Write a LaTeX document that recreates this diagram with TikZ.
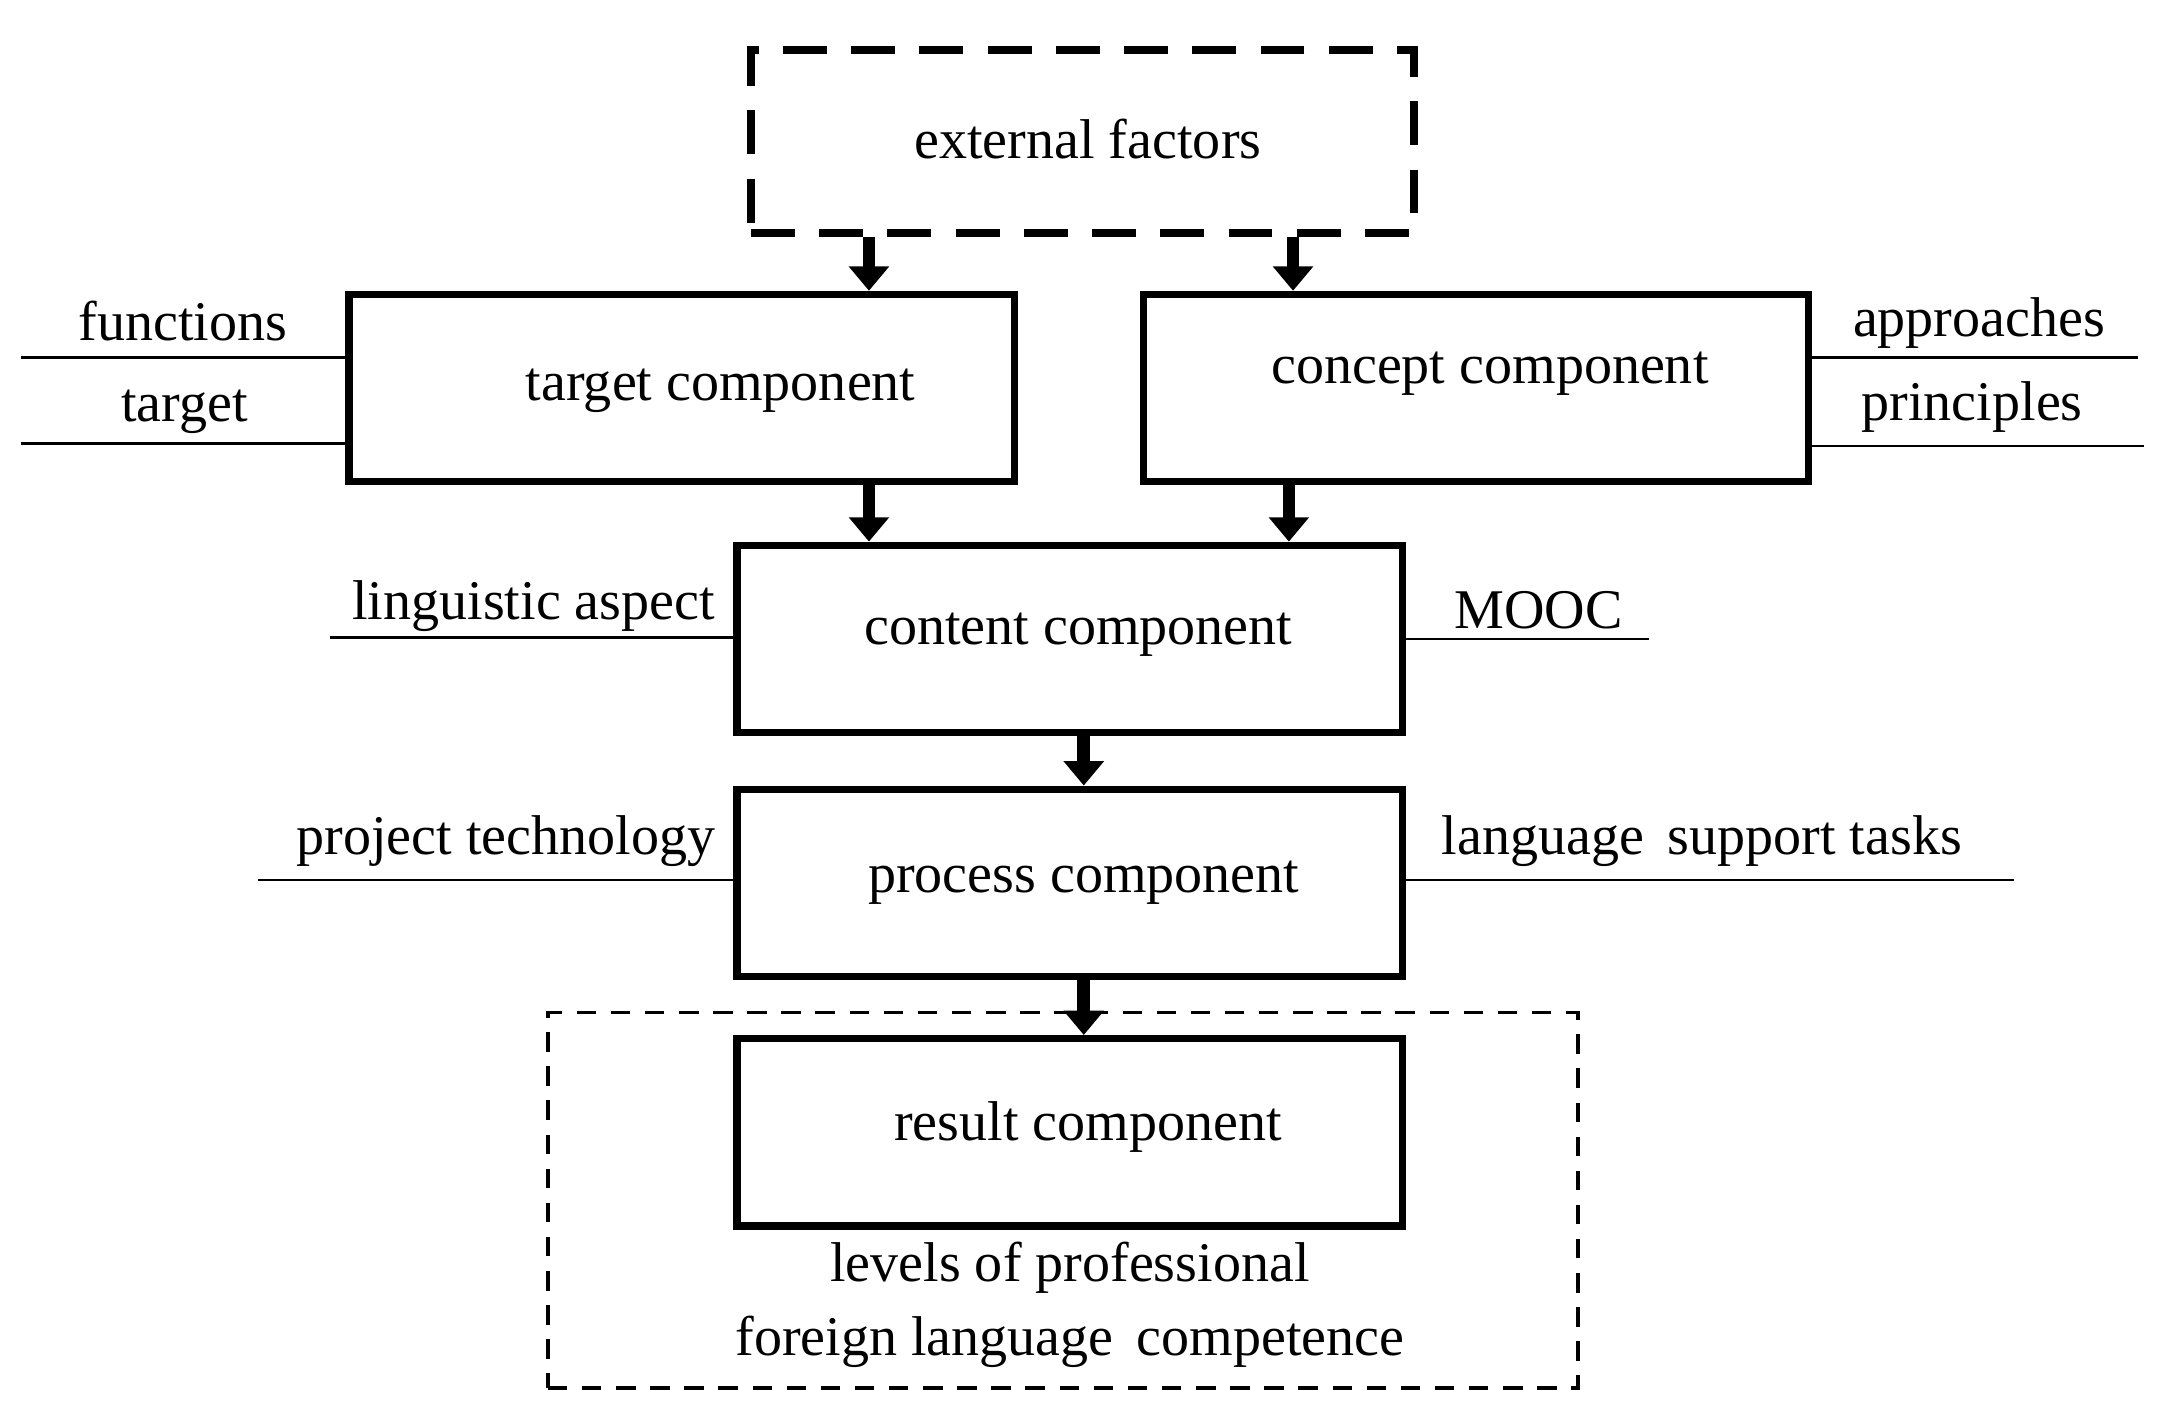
\documentclass[tikz,border=0pt]{standalone}
\usepackage{fontspec}
\setmainfont{Liberation Serif}
\usetikzlibrary{arrows.meta}
\begin{document}
\begin{tikzpicture}[x=0.01cm,y=-0.01cm,
  box/.style={draw,line width=1.5pt,minimum width=4.80cm,minimum height=1.35cm,inner sep=0pt},
  lbl/.style={font=\fontsize{11.5}{13}\selectfont,inner sep=0pt},
  arr/.style={line width=2.6pt,-{Triangle[width=8pt,length=5pt]}},
  ln/.style={line width=0.5pt}]
\useasboundingbox (0,0) rectangle (1560,1028);
\node[draw,dashed,line width=1.6pt,dash pattern=on 9pt off 5pt,minimum width=4.78cm,minimum height=1.32cm] (ext) at (781,102) {};
\node[lbl] at (785,100) {external factors};
\node[box] (tgt) at (492,280) {};
\node[lbl] at (520,282) {target component};
\node[box] (con) at (1065,280) {};
\node[lbl] at (1075,270) {concept component};
\node[box] (cnt) at (772,461) {};
\node[lbl] at (778,458) {content component};
\node[box] (prc) at (772,637) {};
\node[lbl] at (782,637) {process component};
\node[box] (res) at (772,817) {};
\node[lbl] at (785,813) {result component};
\node[draw,dashed,line width=0.7pt,dash pattern=on 4pt off 3pt,minimum width=7.43cm,minimum height=2.71cm] (grp) at (767,866) {};
\node[lbl] at (772,915) {levels of professional};
\node[lbl] at (772,968) {foreign language\, competence};
% arrows
\draw[arr] (ext.south -| 627,0) -- (tgt.north -| 627,0);
\draw[arr] (ext.south -| 933,0) -- (con.north -| 933,0);
\draw[arr] (tgt.south -| 627,0) -- (cnt.north -| 627,0);
\draw[arr] (con.south -| 930,0) -- (cnt.north -| 930,0);
\draw[arr] (cnt.south -| 782,0) -- (prc.north -| 782,0);
\draw[arr] (prc.south -| 782,0) -- (res.north -| 782,0);
% side labels
\coordinate (f1) at (15,258); \coordinate (f2) at (15,320);
\draw[ln] (f1) -- (f1 -| tgt.west); \node[lbl] at (132,232) {functions};
\draw[ln] (f2) -- (f2 -| tgt.west); \node[lbl] at (133,297) {target};
\coordinate (a1) at (1543,258); \coordinate (a2) at (1547,322);
\draw[ln] (a1) -- (a1 -| con.east); \node[lbl] at (1428,233) {approaches};
\draw[ln] (a2) -- (a2 -| con.east); \node[lbl] at (1423,294) {principles};
\coordinate (l1) at (238,460); \coordinate (m1) at (1190,461);
\draw[ln] (l1) -- (l1 -| cnt.west); \node[lbl] at (385,437) {linguistic aspect};
\draw[ln] (m1) -- (m1 -| cnt.east); \node[lbl] at (1110,440) {MOOC};
\coordinate (p1) at (186,635); \coordinate (s1) at (1453,635);
\draw[ln] (p1) -- (p1 -| prc.west); \node[lbl] at (365,607) {project technology};
\draw[ln] (s1) -- (s1 -| prc.east); \node[lbl] at (1228,607) {language\, support tasks};
\end{tikzpicture}
\end{document}
